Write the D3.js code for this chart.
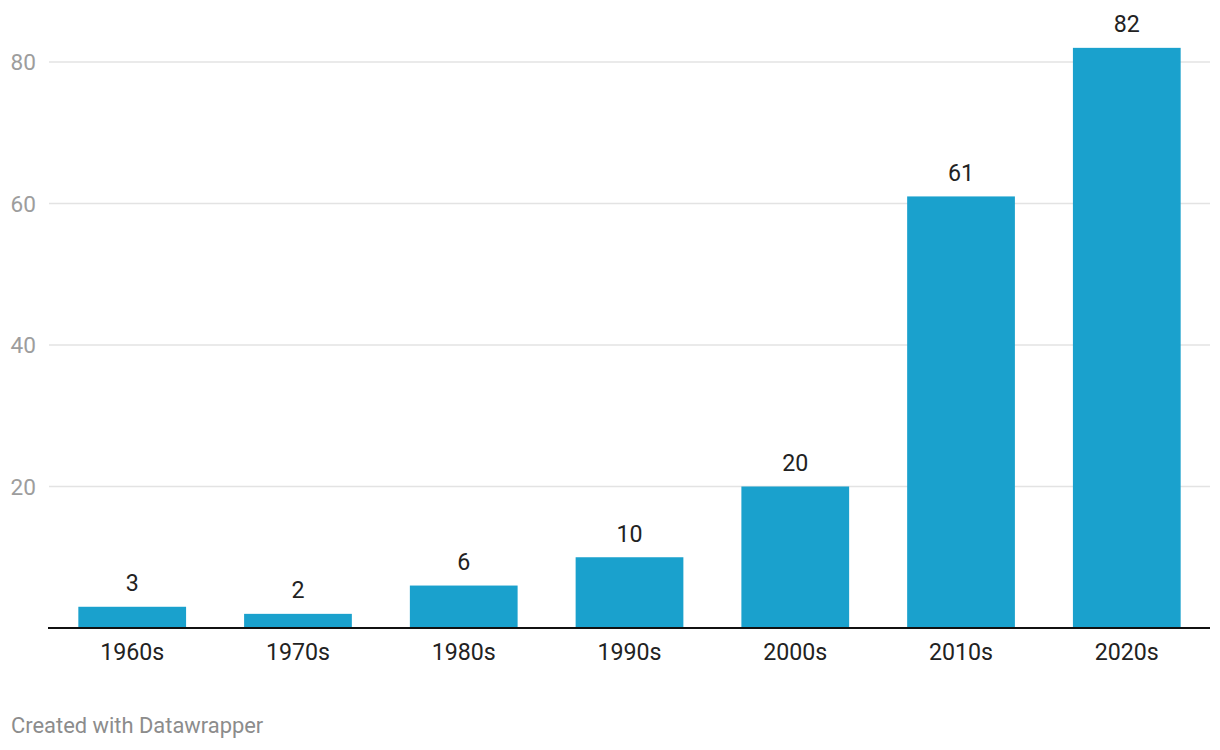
<!DOCTYPE html>
<html><head><meta charset="utf-8">
<script src="https://cdn.jsdelivr.net/npm/d3@7"></script>
<style>
html,body{margin:0;padding:0;background:#fff;}
svg{display:block;font-family:Roboto,"Noto Sans",sans-serif;}
</style></head>
<body>
<svg id="chart" width="1220" height="750"></svg>
<script>
const categories = ["1960s","1970s","1980s","1990s","2000s","2010s","2020s"];
const values = [3,2,6,10,20,61,82];
const yTicks = [20,40,60,80];
const footerText = "Created with Datawrapper";

const svg = d3.select("#chart");
const x = d3.scaleBand().domain(categories).range([48.5,1210.5]).paddingInner(0.35).paddingOuter(0.18);
const y = d3.scaleLinear().domain([0,80]).range([628,62]);

// gridlines
svg.append("g").selectAll("line").data(yTicks).join("line")
  .attr("x1",49).attr("x2",1210)
  .attr("y1",d=>y(d)).attr("y2",d=>y(d))
  .attr("stroke","#e3e3e3").attr("stroke-width",1.6);

// y tick labels
svg.append("g").selectAll("text").data(yTicks).join("text")
  .attr("x",36).attr("y",d=>y(d)).attr("dy","0.36em")
  .attr("text-anchor","end").attr("font-size",22.6).attr("fill","#9d9d9d")
  .text(d=>d);

// bars
svg.append("g").selectAll("rect").data(values).join("rect")
  .attr("x",(d,i)=>x(categories[i])).attr("width",x.bandwidth())
  .attr("y",d=>y(d)).attr("height",d=>y(0)-y(d))
  .attr("fill","#1aa1cd");

// value labels
svg.append("g").selectAll("text").data(values).join("text")
  .attr("x",(d,i)=>x(categories[i])+x.bandwidth()/2)
  .attr("y",d=>y(d)-15.5)
  .attr("text-anchor","middle").attr("font-size",23.2).attr("fill","#222")
  .text(d=>d);

// x axis
const xAxis = svg.append("g").attr("transform","translate(0,628)")
  .call(d3.axisBottom(x).tickSize(0).tickPadding(0));
xAxis.select(".domain").remove();
xAxis.selectAll("text").attr("font-size",23.2).attr("fill","#222")
  .attr("font-family","Roboto,'Noto Sans',sans-serif").attr("dy",null).attr("y",32);
svg.append("line").attr("x1",48).attr("x2",1210).attr("y1",y(0)).attr("y2",y(0))
  .attr("stroke","#111").attr("stroke-width",2);

// footer
svg.append("text").attr("x",11).attr("y",733).attr("font-size",21.9)
  .attr("fill","#8c8c8c").text(footerText);
</script>
</body></html>
